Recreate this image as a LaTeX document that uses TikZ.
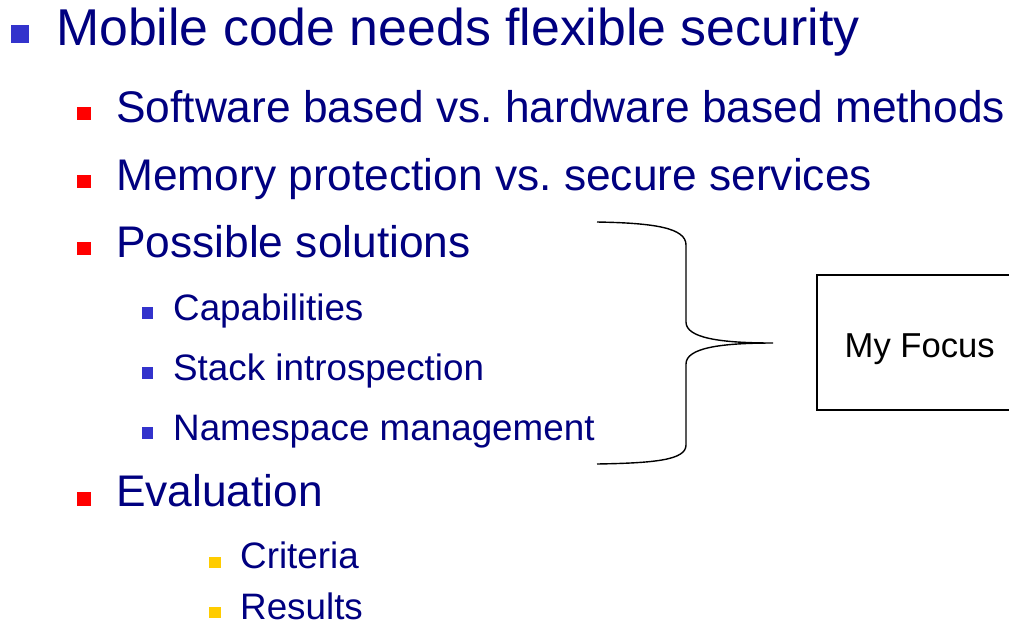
\documentclass[tikz,border=0pt]{standalone}
\usepackage{fontspec}
\setmainfont{Liberation Sans}
\frenchspacing
\definecolor{txtnavy}{HTML}{000080}
\definecolor{bulblue}{HTML}{3333CC}
\definecolor{bulred}{HTML}{FF0000}
\definecolor{bulyel}{HTML}{FFCC00}
\begin{document}
\begin{tikzpicture}[x=1pt,y=-1pt,
  lone/.style={anchor=base west,inner sep=0pt,text=txtnavy,font=\fontsize{51.8}{51.8}\selectfont},
  ltwo/.style={anchor=base west,inner sep=0pt,text=txtnavy,font=\fontsize{44.3}{44.3}\selectfont},
  lthree/.style={anchor=base west,inner sep=0pt,text=txtnavy,font=\fontsize{36.8}{36.8}\selectfont},
  focustxt/.style={anchor=base west,inner sep=0pt,text=black,font=\fontsize{34.6}{34.6}\selectfont},
  bracestyle/.style={draw=black,line width=1.4pt},
  boxstyle/.style={draw=black,line width=1.2pt}]
\useasboundingbox (0,0) rectangle (1009,622);
\clip (0,0) rectangle (1009,622);
% bullets
\fill[bulblue] (11,25) rectangle (29,43);
\fill[bulred] (77,107) rectangle (91,120);
\fill[bulred] (77,175) rectangle (91,188);
\fill[bulred] (77,242) rectangle (91,255);
\fill[bulred] (77,492) rectangle (91,506);
\fill[bulblue] (142,307) rectangle (153,319);
\fill[bulblue] (142,367) rectangle (153,379);
\fill[bulblue] (142,427) rectangle (153,439);
\fill[bulyel] (209,557) rectangle (221,568);
\fill[bulyel] (209,607) rectangle (221,618);
% texts
\node[lone] (t1) at (56,45) {Mobile code needs flexible security};
\node[ltwo] (t2) at (116,122) {Software based vs. hardware based methods};
\node[ltwo] (t3) at (116,190) {Memory protection vs. secure services};
\node[ltwo] (t4) at (116,257) {Possible solutions};
\node[lthree] (t5) at (173,320) {Capabilities};
\node[lthree] (t6) at (173,380) {Stack introspection};
\node[lthree] (t7) at (173,440) {Namespace management};
\node[ltwo] (t8) at (116,506) {Evaluation};
\node[lthree] (t9) at (240,568) {Criteria};
\node[lthree] (t10) at (240,619) {Results};
% brace
\draw[bracestyle] (597,222) .. controls (655,223) and (686,228) .. (686,245)
  -- (686,322) .. controls (686,338) and (720,343) .. (773,343)
  .. controls (720,343) and (686,348) .. (686,364)
  -- (686,445) .. controls (686,460) and (655,463) .. (597,464);
% focus box
\draw[boxstyle] (1020,275) -- (817,275) -- (817,410) -- (1020,410);
\node[focustxt] (focus) at (844.5,357) {My Focus};
\end{tikzpicture}
\end{document}
